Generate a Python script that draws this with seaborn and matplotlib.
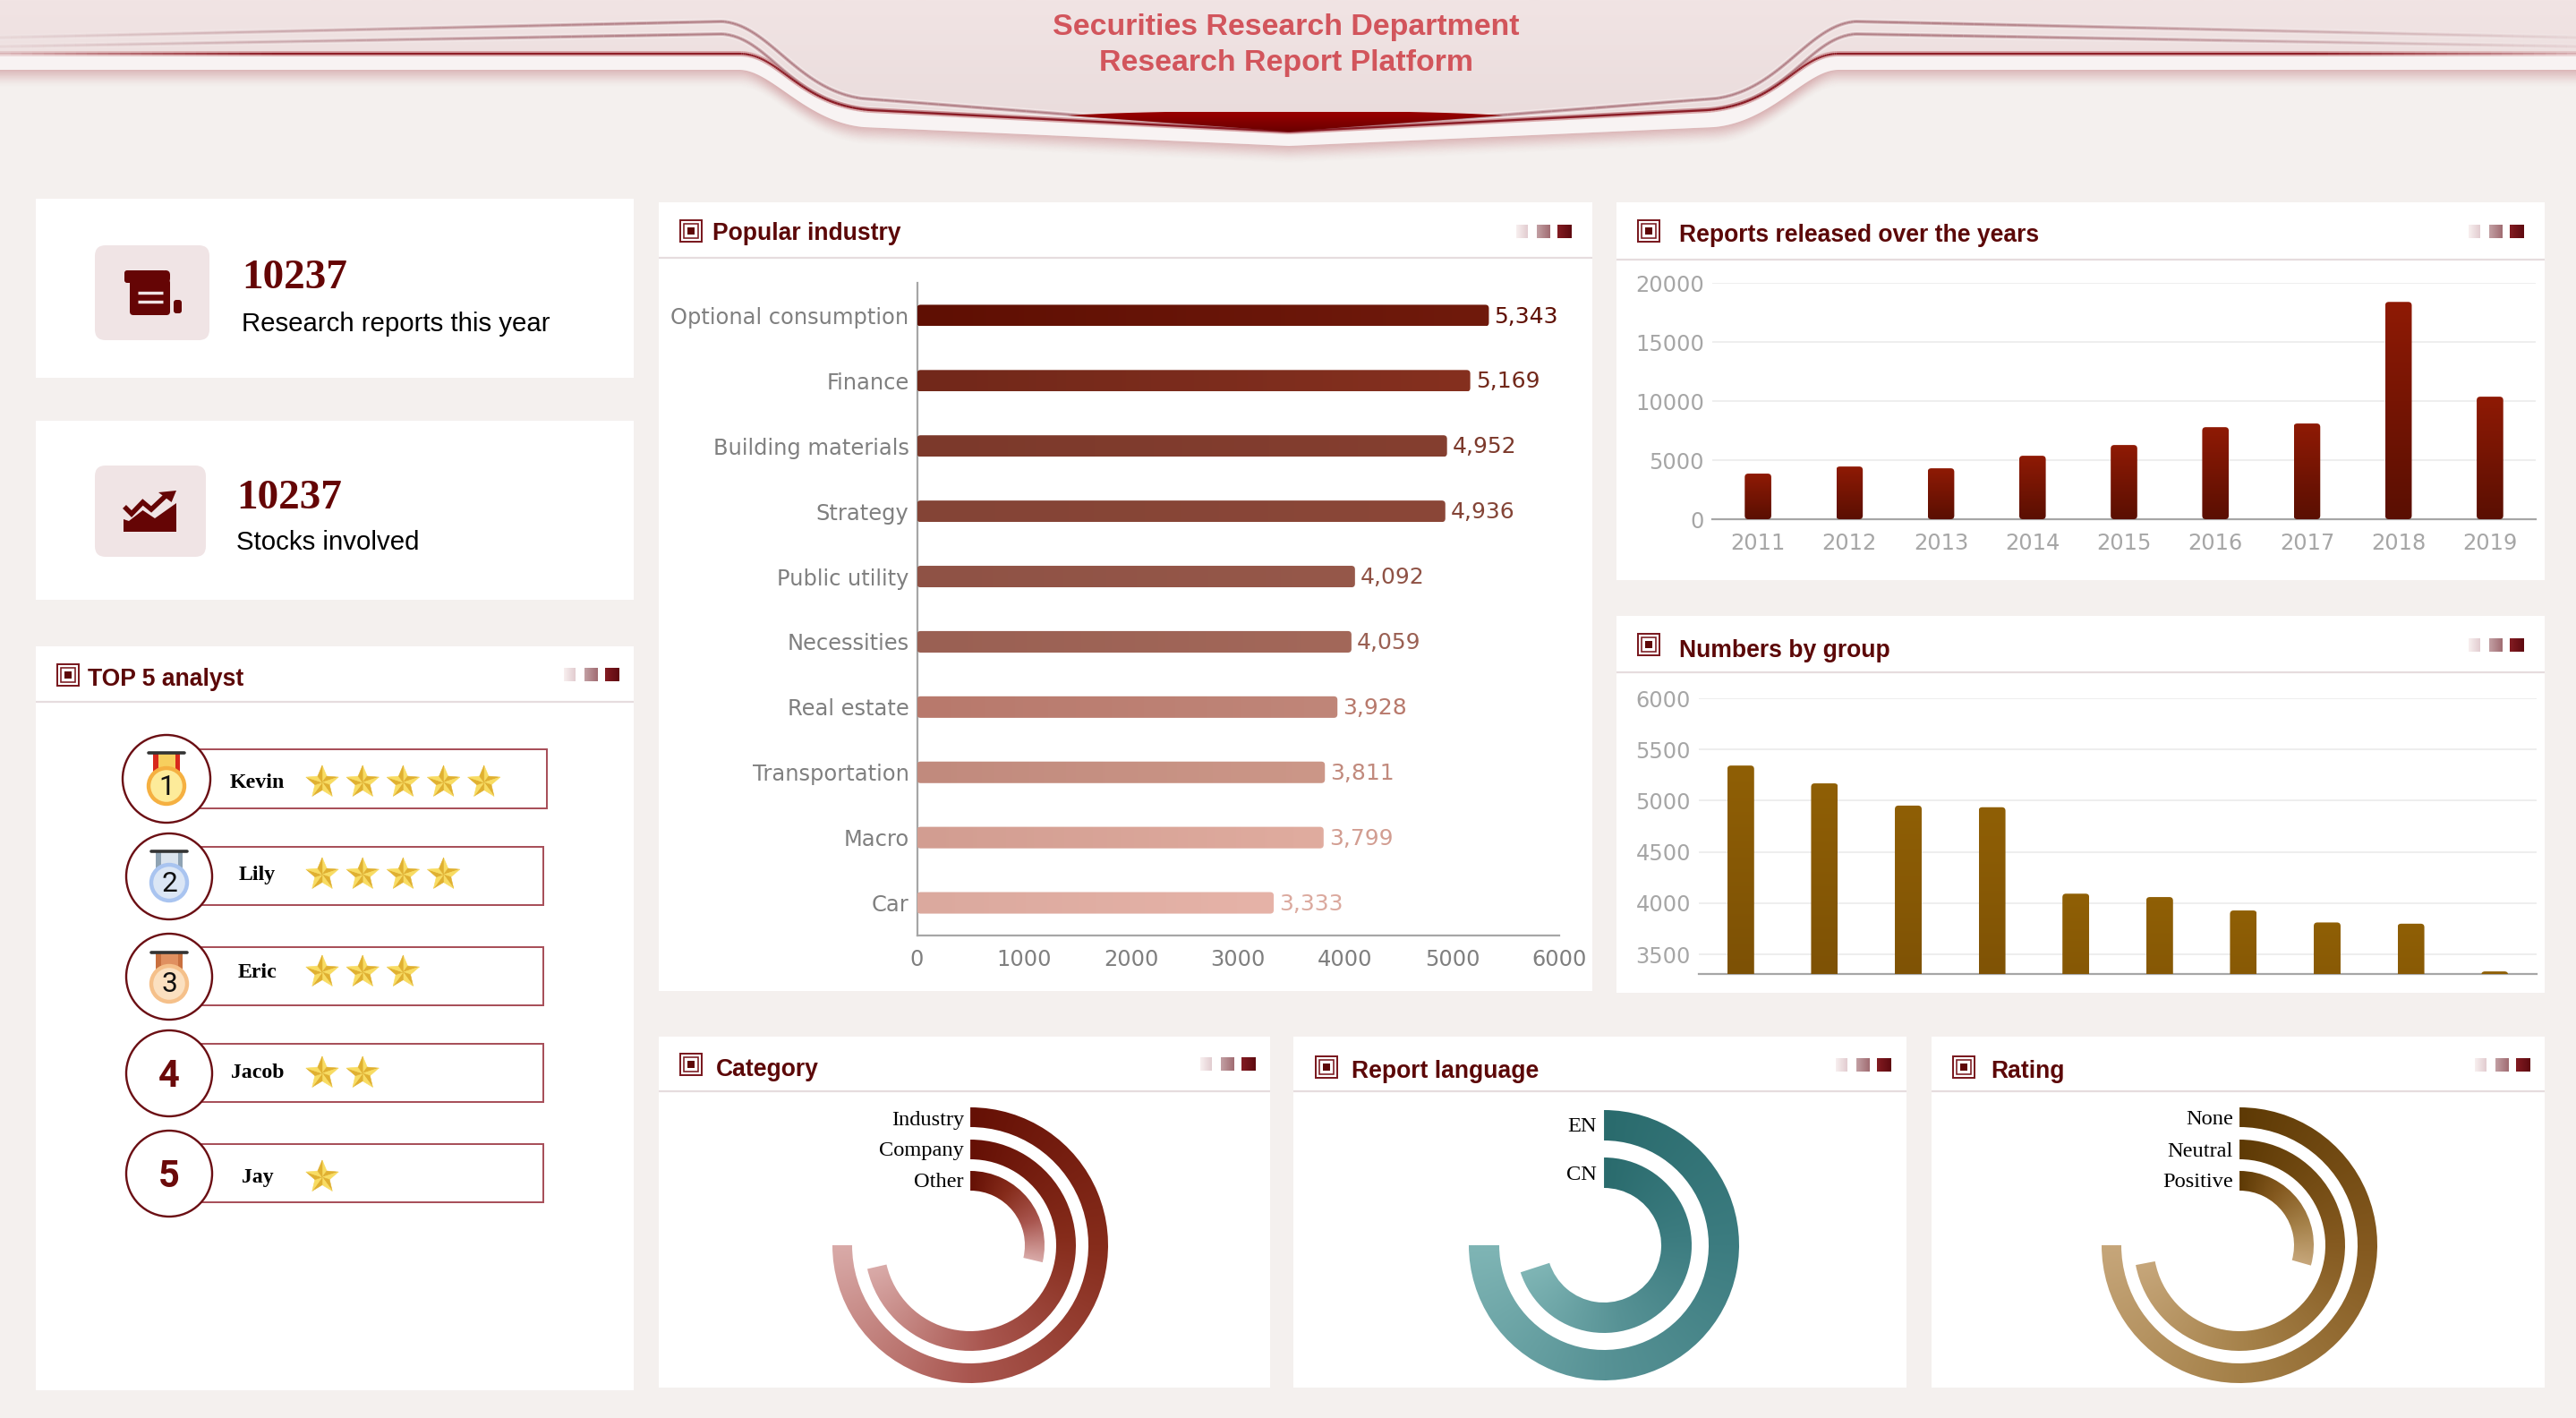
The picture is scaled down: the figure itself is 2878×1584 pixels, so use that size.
import numpy as np
import matplotlib
matplotlib.use("Agg")
import matplotlib.pyplot as plt
from matplotlib.patches import Rectangle, FancyBboxPatch, Wedge, Polygon, Circle
from matplotlib.collections import LineCollection
from matplotlib.colors import LinearSegmentedColormap, to_rgb
import seaborn as sns

# DATA

industries = ["Optional consumption", "Finance", "Building materials", "Strategy", "Public utility",
              "Necessities", "Real estate", "Transportation", "Macro", "Car"]
industry_counts = [5343, 5169, 4952, 4936, 4092, 4059, 3928, 3811, 3799, 3333]
industry_ticks = [0, 1000, 2000, 3000, 4000, 5000, 6000]

years = ["2011", "2012", "2013", "2014", "2015", "2016", "2017", "2018", "2019"]
reports_per_year = [3860, 4460, 4310, 5370, 6280, 7790, 8100, 18390, 10370]
year_ticks = [0, 5000, 10000, 15000, 20000]

group_ticks = [3500, 4000, 4500, 5000, 5500, 6000]

analysts = ["Kevin", "Lily", "Eric", "Jacob", "Jay"]
analyst_stars = [5, 4, 3, 2, 1]

category_labels = ["Industry", "Company", "Other"]
category_pct = [75, 71.4, 28.7]
language_labels = ["EN", "CN"]
language_pct = [75, 70]
rating_labels = ["None", "Neutral", "Positive"]
rating_pct = [75, 72, 29.4]

# bar colours, left end and right end of each bar
industry_left = ["#5f0f03", "#72281a", "#7c392b", "#844436", "#8f5245",
                 "#9a6053", "#b8796c", "#c18a7d", "#d29d91", "#dba99e"]
industry_right = ["#701a0c", "#85301f", "#853f30", "#8b4738", "#96584a",
                  "#a3685a", "#c08679", "#cc9788", "#e0ac9f", "#e6b3a8"]

# SETUP

W, H = 2878, 1584
BG = "#f4f0ee"
DARK = "#5c0808"
ICON = "#7a1a20"
GREY = "#a6a6a6"

sns.set_theme(style="white")
plt.rcParams["font.family"] = ["DejaVu Sans"]
plt.rcParams["axes.unicode_minus"] = False

fig = plt.figure(figsize=(W / 200, H / 200), dpi=200, facecolor=BG)
page = fig.add_axes([0, 0, 1, 1], zorder=0)
page.set_xlim(0, W)
page.set_ylim(H, 0)
page.set_autoscale_on(False)
page.axis("off")


def px(n):
    # pixels to points
    return n * 72 / 200


def px_axes(x0, y0, x1, y1):
    ax = fig.add_axes([x0 / W, 1 - y1 / H, (x1 - x0) / W, (y1 - y0) / H], zorder=2)
    ax.set_facecolor("none")
    return ax


def grad_image(ax, c0, c1, extent, vertical=False, clip=None, zorder=3):
    cmap = LinearSegmentedColormap.from_list("g", [c0, c1])
    arr = np.linspace(0, 1, 128).reshape(-1, 1) if vertical else np.linspace(0, 1, 128).reshape(1, -1)
    im = ax.imshow(arr, cmap=cmap, extent=extent, aspect="auto", zorder=zorder,
                   interpolation="bilinear", origin="upper", vmin=0, vmax=1)
    if clip is not None:
        im.set_clip_path(clip)
    return im


def bezier(p0, p1, p2, p3, n=60):
    t = np.linspace(0, 1, n)[:, None]
    p0, p1, p2, p3 = [np.array(p, float) for p in (p0, p1, p2, p3)]
    return (1 - t) ** 3 * p0 + 3 * (1 - t) ** 2 * t * p1 + 3 * (1 - t) * t ** 2 * p2 + t ** 3 * p3


def mirror(pts):
    m = pts[::-1].copy()
    m[:, 0] = 2880 - m[:, 0]
    return np.vstack([pts, m])


# HEADER

def header_curve(y_left, xa, ctrl1, ctrl2, end, y_mid):
    return np.vstack([[[0, y_left]], bezier((xa, y_left), ctrl1, ctrl2, end), [[1440, y_mid]]])


def header_curve_sloped(y0, xa, ya, ctrl1, ctrl2, end, y_mid):
    return np.vstack([[[0, y0]], bezier((xa, ya), ctrl1, ctrl2, end), [[1440, y_mid]]])


def fade_line(pts, color, lw, alpha_edge, alpha_mid, ramp=700, zorder=4):
    # densify so that the fade towards the page edge is smooth
    dense = [pts[0]]
    for a, b in zip(pts[:-1], pts[1:]):
        steps = max(1, int(np.hypot(*(b - a)) / 12))
        for s in range(1, steps + 1):
            dense.append(a + (b - a) * s / steps)
    dense = np.array(dense)
    edge = np.minimum(dense[:, 0], 2880 - dense[:, 0])
    alpha = alpha_edge + (alpha_mid - alpha_edge) * np.clip(edge / ramp, 0, 1)
    segs = np.stack([dense[:-1], dense[1:]], axis=1)
    rgb = to_rgb(color)
    lc = LineCollection(segs, colors=[(*rgb, a) for a in alpha[:-1]], linewidths=px(lw), zorder=zorder,
                        capstyle="butt")
    page.add_collection(lc)


band_low = mirror(header_curve(78, 826, (862, 78), (900, 136), (965, 142), 163))
for i in range(16):
    shadow = band_low + [0, i * 1.2]
    page.plot(shadow[:, 0], shadow[:, 1], color="#c98a8e", lw=px(2.4), alpha=0.34 * (1 - i / 16) ** 1.6,
              zorder=1, solid_capstyle="butt")
page.add_patch(Polygon(np.vstack([[[0, 0]], band_low, [[2880, 0]]]), closed=True, fc="#f8f3f3", ec="none", zorder=2))

band_top = mirror(header_curve(60, 826, (872, 60), (890, 116), (972, 123), 147))
pink_clip = Polygon(np.vstack([[[0, 0]], band_top, [[2880, 0]]]), closed=True, fc="none", ec="none", zorder=3)
page.add_patch(pink_clip)
grad_image(page, "#f1e4e4", "#e9dbdb", (0, 2880, 150, 0), vertical=True, clip=pink_clip, zorder=3)

line_top = mirror(header_curve_sloped(42, 807, 24, (860, 28), (890, 100), (963, 110), 147))
line_mid = mirror(header_curve_sloped(52, 807, 38, (860, 42), (880, 112), (968, 122), 147))
for line in (line_top, line_mid):
    fade_line(line, "#f6eded", 7, 0.2, 0.7, zorder=3.6)
    fade_line(line, "#c49ba0", 4, 0.08, 0.7, zorder=3.8)
    fade_line(line, "#a87078", 1.8, 0.05, 0.75)
fade_line(band_top, "#c47478", 6, 0.2, 0.55, ramp=300, zorder=3.8)
fade_line(band_top, "#86101a", 2.2, 0.12, 0.9, ramp=300)

red_top = bezier((1193, 129), (1300, 122), (1580, 122), (1679, 129))
red_clip = Polygon(np.vstack([red_top, [[1440, 147]]]), closed=True, fc="none", ec="none", zorder=5)
page.add_patch(red_clip)
grad_image(page, "#9a0000", "#6a0000", (1190, 1682, 147, 125), vertical=True, clip=red_clip, zorder=5)

page.text(1437, 31, "Securities Research Department", ha="center", va="center", family="Liberation Sans",
          weight="bold", fontsize=12.2, color="#d2555c", zorder=6)
page.text(1437, 71, "Research Report Platform", ha="center", va="center", family="Liberation Sans",
          weight="bold", fontsize=12.2, color="#d2555c", zorder=6)


# CARDS

def card(x0, y0, x1, y1, line_y=None):
    page.add_patch(Rectangle((x0, y0), x1 - x0, y1 - y0, fc="white", ec="none", zorder=1))
    if line_y:
        page.plot([x0, x1], [line_y, line_y], color="#e6dcde", lw=px(2.2), zorder=1.5, solid_capstyle="butt")


def panel_head(x0, y0, x1, y1, line_y, title, icon_x, icon_y, title_x, title_y, sq_inset, sq_y):
    card(x0, y0, x1, y1, line_y)
    s = 24
    page.add_patch(Rectangle((icon_x, icon_y), s, s, fc="none", ec=ICON, lw=px(2), zorder=2))
    page.add_patch(Rectangle((icon_x + 4, icon_y + 4), s - 8, s - 8, fc="none", ec=ICON, lw=px(1.6), zorder=2))
    page.add_patch(Rectangle((icon_x + 8, icon_y + 8), s - 16, s - 16, fc="#5e0808", ec="none", zorder=2))
    page.text(title_x, title_y, title, ha="left", va="center", family="Liberation Sans", weight="bold",
              fontsize=9.55, color=DARK, zorder=3)
    r = x1 - sq_inset
    grad_image(page, "#f8f0f0", "#e2ccd0", (r - 62, r - 49, sq_y + 15, sq_y), zorder=2)
    grad_image(page, "#c3a0a4", "#a06c72", (r - 39, r - 24, sq_y + 15, sq_y), zorder=2)
    grad_image(page, "#831c22", "#5e0a10", (r - 16, r, sq_y + 15, sq_y), zorder=2)


card(40, 222, 708, 422)
card(40, 470, 708, 670)
panel_head(40, 722, 708, 1553, 784, "TOP 5 analyst", 64, 742, 98, 759, 16, 746)
panel_head(736, 226, 1779, 1107, 288, "Popular industry", 760, 246, 796, 261, 23, 251)
panel_head(1806, 226, 2843, 648, 290, "Reports released over the years", 1830, 246, 1876, 263, 23, 251)
panel_head(1806, 688, 2843, 1109, 751, "Numbers by group", 1830, 708, 1876, 727, 23, 713)
panel_head(736, 1158, 1419, 1550, 1219, "Category", 760, 1177, 800, 1195, 16, 1181)
panel_head(1445, 1158, 2130, 1550, 1219, "Report language", 1470, 1180, 1510, 1197, 17, 1182)
panel_head(2158, 1158, 2843, 1550, 1219, "Rating", 2182, 1180, 2224, 1197, 16, 1182)


def stat_card(box, num_x, num_y, label, label_y):
    x0, y0, x1, y1 = box
    page.add_patch(FancyBboxPatch((x0, y0), x1 - x0, y1 - y0, boxstyle="round,pad=0,rounding_size=12",
                                  fc="#f0e4e5", ec="none", zorder=2))
    page.text(num_x, num_y, "10237", ha="left", va="center", family="Liberation Serif", weight="bold",
              fontsize=17, color="#650505", zorder=3)
    page.text(num_x, label_y, label, ha="left", va="center", family="Liberation Sans", fontsize=10.6,
              color="black", zorder=3)


stat_card((106, 274, 234, 380), 270, 311, "Research reports this year", 362)
stat_card((106, 520, 230, 622), 264, 557, "Stocks involved", 606)

# scroll icon
ic = "#650505"
page.add_patch(FancyBboxPatch((139, 302), 46, 14, boxstyle="round,pad=0,rounding_size=3", fc=ic, ec="none", zorder=3))
page.add_patch(FancyBboxPatch((145, 312), 45, 40, boxstyle="round,pad=0,rounding_size=4", fc=ic, ec="none", zorder=3))
page.add_patch(FancyBboxPatch((180, 302), 10, 14, boxstyle="round,pad=0,rounding_size=5", fc=ic, ec="none", zorder=3))
page.plot([154, 182], [327, 327], color="#f0e4e5", lw=px(3.4), zorder=4, solid_capstyle="butt")
page.plot([154, 182], [337, 337], color="#f0e4e5", lw=px(3.4), zorder=4, solid_capstyle="butt")
page.add_patch(FancyBboxPatch((194, 335), 9, 15, boxstyle="round,pad=0,rounding_size=3", fc=ic, ec="none", zorder=3))

# trend icon
page.add_patch(Polygon([(138, 580), (138, 594), (197, 594), (197, 562), (173, 579), (159.5, 570), (144, 582)],
                       closed=True, fc=ic, ec="none", zorder=3))
page.plot([139, 147, 159.5, 169, 186], [566, 574, 561, 569, 553], color=ic, lw=px(5.5), zorder=3,
          solid_joinstyle="miter", solid_capstyle="butt")
page.add_patch(Polygon([(197, 548), (177, 550), (191.6, 561)], closed=True, fc=ic, ec="none", zorder=3))


# POPULAR INDUSTRY

def paint_bars(ax, ax_px, left, right, vertical, radius=4, square_base=False):
    # swaps the flat rectangles seaborn drew for rounded gradient ones at the same place
    ax.set_autoscale_on(False)
    xl, yl = ax.get_xlim(), ax.get_ylim()
    ux = abs(xl[1] - xl[0]) / ax_px[0]
    uy = abs(yl[1] - yl[0]) / ax_px[1]
    bars = list(ax.patches)
    for bar, c0, c1 in zip(bars, left, right):
        x, y, w, h = bar.get_x(), bar.get_y(), bar.get_width(), bar.get_height()
        bar.set_visible(False)
        by = min(y, y + h)
        bh = abs(h)
        if square_base:
            by -= radius * 2 * uy
            bh += radius * 2 * uy
        clip = FancyBboxPatch((x, by), w, bh, boxstyle=f"round,pad=0,rounding_size={radius * ux}",
                              mutation_aspect=uy / ux, fc="none", ec="none", zorder=3)
        ax.add_patch(clip)
        if vertical:
            grad_image(ax, c0, c1, (x, x + w, min(y, y + h), max(y, y + h)), vertical=True, clip=clip)
        else:
            grad_image(ax, c0, c1, (x, x + w, max(y, y + h), min(y, y + h)), clip=clip)
    ax.set_xlim(xl)
    ax.set_ylim(yl)


def style_axis(ax, label_color, size=8.7):
    ax.set_xlabel("")
    ax.set_ylabel("")
    ax.tick_params(axis="x", length=0, pad=px(15), labelsize=size, labelcolor=label_color)
    ax.tick_params(axis="y", length=0, pad=px(9), labelsize=size, labelcolor=label_color)
    for side in ("top", "right", "left"):
        ax.spines[side].set_visible(False)
    ax.spines["bottom"].set_color(GREY)
    ax.spines["bottom"].set_linewidth(px(2.2))


ind_ax = px_axes(1024.5, 316, 1742, 1045)
sns.barplot(x=industry_counts, y=industries, hue=industries, palette=industry_left, legend=False,
            orient="h", width=0.33, ax=ind_ax, saturation=1)
ind_ax.set_xlim(0, 6000)
ind_ax.set_ylim(9.5, -0.5)
ind_ax.set_xticks(industry_ticks)
style_axis(ind_ax, "#7f7f7f")
ind_ax.spines["left"].set_visible(True)
ind_ax.spines["left"].set_color(GREY)
ind_ax.spines["left"].set_linewidth(px(2.2))
paint_bars(ind_ax, (717.5, 729), industry_left, industry_right, False)
for i, (v, c) in enumerate(zip(industry_counts, industry_left)):
    ind_ax.text(v + 6 * 6000 / 717.5, i + 0.015, f"{v:,}", ha="left", va="center", fontsize=9, color=c, zorder=4)


# REPORTS BY YEAR

year_ax = px_axes(1913, 316, 2833, 580)
sns.barplot(x=years, y=reports_per_year, color="#7a1505", width=0.29, ax=year_ax, saturation=1)
year_ax.set_xlim(-0.5, 8.5)
year_ax.set_ylim(0, 20000)
year_ax.set_yticks(year_ticks)
style_axis(year_ax, GREY)
year_ax.grid(axis="y", color="#eeeeee", lw=px(2))
year_ax.set_axisbelow(True)
paint_bars(year_ax, (920, 264), ["#8f1a05"] * 9, ["#5a0f02"] * 9, True)


# NUMBERS BY GROUP

group_ax = px_axes(1898, 780, 2834, 1088)
sns.barplot(x=industries, y=industry_counts, color="#7a4e05", width=0.32, ax=group_ax, saturation=1)
group_ax.set_xlim(-0.5, 9.5)
group_ax.set_ylim(3308, 6000)
group_ax.set_yticks(group_ticks)
group_ax.set_xticks([])
style_axis(group_ax, GREY)
group_ax.grid(axis="y", color="#eeeeee", lw=px(2))
group_ax.set_axisbelow(True)
paint_bars(group_ax, (936, 308), ["#8f5f05"] * 10, ["#5f3a05"] * 10, True, square_base=True)


# RINGS

def rings(cx, cy, radii, pct, labels, label_ys, label_x, stops, r_outer):
    ax = px_axes(cx - r_outer - 2, cy - r_outer - 2, cx + r_outer + 2, cy + r_outer + 2)
    ax.set_xlim(-r_outer - 2, r_outer + 2)
    ax.set_ylim(-r_outer - 2, r_outer + 2)
    ax.set_autoscale_on(False)
    ax.axis("off")
    cmap = LinearSegmentedColormap.from_list("ring", stops)
    grid = np.linspace(-r_outer - 2, r_outer + 2, 700)
    xx, yy = np.meshgrid(grid, grid)
    clockwise = np.degrees(np.arctan2(xx, yy)) % 360
    for (ro, ri), p in zip(radii, pct):
        sweep = p * 3.6
        wedge = Wedge((0, 0), ro, 90 - sweep, 90, width=ro - ri, fc="none", ec="none")
        ax.add_patch(wedge)
        im = ax.imshow(np.clip(clockwise / sweep, 0, 1), cmap=cmap, vmin=0, vmax=1, origin="lower",
                       extent=(-r_outer - 2, r_outer + 2, -r_outer - 2, r_outer + 2), aspect="auto",
                       interpolation="bilinear")
        im.set_clip_path(wedge)
    for lab, y in zip(labels, label_ys):
        page.text(label_x, y, lab, ha="right", va="center", family="Liberation Serif", fontsize=8.8,
                  color="black", zorder=3)


three_rings = [(154, 132), (118, 96), (83, 61)]
rings(1084, 1391, three_rings, category_pct, category_labels, [1251, 1286, 1321], 1077,
      ["#651005", "#862c1b", "#a9564f", "#d9aaa8"], 154)
rings(1792, 1391, [(151, 117), (98, 64)], language_pct, language_labels, [1259, 1312], 1784,
      ["#2a6b6d", "#3c7c80", "#579295", "#7fb5b5"], 151)
rings(2502, 1391, three_rings, rating_pct, rating_labels, [1251, 1286, 1321], 2495,
      ["#5e3a05", "#84591f", "#a48048", "#c6a67a"], 154)


# ANALYST LIST

row_circle = [(186, 870, 49), (189, 979, 48), (189, 1091, 48), (189, 1199, 48), (189, 1311, 48)]
row_box = [(611, 837, 903), (607, 946, 1011), (607, 1058, 1123), (607, 1166, 1231), (607, 1278, 1343)]
name_y = [874, 977, 1086, 1199, 1316]
star_y = [874, 977, 1086, 1199, 1315]
medal_y = [(841, 878), (951, 986), (1064, 1099)]
medal_colors = [("#f5b041", "#fdeb9a", "#d8281c", "#f7cf5e"),
                ("#a9c4f0", "#dbe6f5", "#8fa3b3", "#dbe4ee"),
                ("#f5c08a", "#fbe0c0", "#c9703f", "#e09060")]


def star(cx, cy, R=19, r=8.6):
    pts = []
    for k in range(10):
        a = np.radians(-90 + k * 36)
        rad = R if k % 2 == 0 else r
        pts.append((cx + rad * np.cos(a), cy + rad * np.sin(a)))
    for k in range(10):
        shade = "#f8dc62" if k % 2 == 0 else "#e0b030"
        page.add_patch(Polygon([(cx, cy), pts[k], pts[(k + 1) % 10]], closed=True, fc=shade, ec=shade, lw=0.2,
                               zorder=3))


for i, name in enumerate(analysts):
    cx, cy, r = row_circle[i]
    right, top, bottom = row_box[i]
    page.add_patch(Rectangle((cx, top), right - cx, bottom - top, fc="white", ec="#a8505a", lw=px(2), zorder=2))
    page.add_patch(Circle((cx, cy), r, fc="white", ec="#6b0f14", lw=px(2.4), zorder=2.5))
    page.text(287.5, name_y[i], name, ha="center", va="center", family="Liberation Serif", weight="bold",
              fontsize=8.6, color="black", zorder=3)
    for s in range(analyst_stars[i]):
        star(360 + 45.2 * s, star_y[i])
    if i < 3:
        bar_y, my = medal_y[i]
        ring_c, face_c, side_c, mid_c = medal_colors[i]
        page.add_patch(Rectangle((cx - 15, bar_y), 30, my - bar_y, fc=side_c, ec="none", zorder=3))
        page.add_patch(Rectangle((cx - 9.5, bar_y), 19, my - bar_y, fc=mid_c, ec="none", zorder=3))
        page.plot([cx - 20, cx + 20], [bar_y, bar_y], color="#333333", lw=px(3.6), zorder=3.1)
        page.add_patch(Circle((cx, my), 20, fc=face_c, ec=ring_c, lw=px(4.4), zorder=3.2))
        page.text(cx, my + 1, str(i + 1), ha="center", va="center", family="Roboto", fontsize=11.4,
                  color="#111111", zorder=3.3)
    else:
        page.text(cx, cy + 3, str(i + 1), ha="center", va="center", family="Roboto", weight="bold", fontsize=15,
                  color="#6b0a0a", zorder=3)

fig.savefig("out.png", dpi=200, facecolor=BG)
